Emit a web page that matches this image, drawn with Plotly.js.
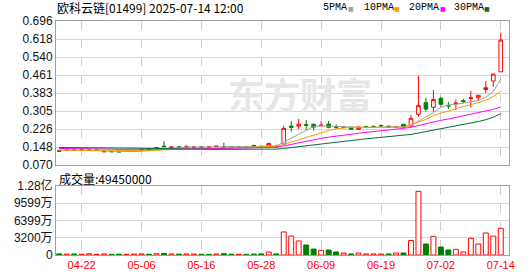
<!DOCTYPE html>
<html>
<head>
<meta charset="utf-8">
<script src="https://cdn.plot.ly/plotly-3.0.1.min.js"></script>
<style>html,body{margin:0;padding:0;background:#fff;}#chart{width:530px;height:276px;}</style>
</head>
<body>
<div id="chart"></div>
<script>
// ---- data ----
const dates = ['04-15','04-16','04-17','04-22','04-23','04-24','04-25','04-28','04-29','04-30',
  '05-02','05-06','05-07','05-08','05-09','05-12','05-13','05-14','05-15','05-16',
  '05-19','05-20','05-21','05-22','05-23','05-26','05-27','05-28','05-29','05-30',
  '06-02','06-03','06-04','06-05','06-06','06-09','06-10','06-11','06-12','06-13',
  '06-16','06-17','06-18','06-19','06-20','06-23','06-24','06-25','06-26','06-27',
  '06-30','07-02','07-03','07-04','07-07','07-08','07-09','07-10','07-11','07-14'];

const openP = [0.132,0.134,0.135,0.134,0.133,0.134,0.127,0.128,0.129,0.130,
  0.131,0.134,0.137,0.143,0.152,0.146,0.149,0.148,0.147,0.149,
  0.148,0.149,0.150,0.149,0.148,0.148,0.155,0.152,0.152,0.151,
  0.161,0.239,0.239,0.245,0.247,0.241,0.248,0.235,0.234,0.234,
  0.225,0.237,0.238,0.242,0.239,0.234,0.247,0.239,0.290,0.341,
  0.321,0.360,0.329,0.336,0.349,0.359,0.362,0.398,0.435,0.475];
const highP = [0.133,0.136,0.136,0.136,0.136,0.135,0.130,0.129,0.130,0.131,
  0.134,0.138,0.138,0.147,0.173,0.149,0.150,0.156,0.151,0.150,
  0.149,0.153,0.167,0.150,0.149,0.149,0.156,0.153,0.166,0.158,
  0.241,0.261,0.270,0.266,0.250,0.261,0.261,0.247,0.238,0.235,
  0.240,0.240,0.241,0.246,0.240,0.238,0.249,0.287,0.457,0.362,
  0.396,0.367,0.345,0.355,0.357,0.392,0.374,0.435,0.466,0.645];
const lowP = [0.129,0.133,0.133,0.133,0.132,0.133,0.126,0.127,0.126,0.129,
  0.130,0.133,0.134,0.142,0.149,0.145,0.146,0.144,0.141,0.146,
  0.147,0.148,0.146,0.147,0.147,0.147,0.152,0.149,0.151,0.145,
  0.157,0.215,0.225,0.222,0.219,0.238,0.229,0.226,0.232,0.224,
  0.224,0.233,0.234,0.236,0.233,0.233,0.232,0.236,0.280,0.302,
  0.302,0.323,0.313,0.309,0.338,0.321,0.348,0.382,0.410,0.475];
const closeP = [0.130,0.135,0.134,0.135,0.135,0.134,0.129,0.128,0.127,0.130,
  0.133,0.137,0.135,0.145,0.150,0.148,0.147,0.150,0.148,0.147,
  0.148,0.152,0.147,0.148,0.148,0.148,0.153,0.150,0.164,0.149,
  0.229,0.234,0.247,0.243,0.235,0.243,0.234,0.234,0.236,0.225,
  0.234,0.236,0.237,0.240,0.234,0.236,0.234,0.273,0.328,0.313,
  0.355,0.334,0.327,0.339,0.347,0.362,0.373,0.406,0.465,0.613];

const ma5 = [0.136,0.135,0.134,0.134,0.134,0.134,0.133,0.132,0.129,0.128,
  0.128,0.130,0.132,0.135,0.140,0.143,0.146,0.148,0.148,0.148,
  0.148,0.149,0.149,0.149,0.149,0.149,0.150,0.150,0.153,0.153,
  0.169,0.186,0.205,0.222,0.238,0.240,0.239,0.238,0.236,0.234,
  0.232,0.233,0.234,0.234,0.236,0.237,0.236,0.243,0.261,0.276,
  0.297,0.321,0.331,0.334,0.340,0.344,0.350,0.365,0.389,0.443];
const ma10 = [0.135,0.134,0.134,0.133,0.133,0.133,0.132,0.132,0.132,0.132,
  0.132,0.132,0.133,0.134,0.136,0.137,0.139,0.141,0.143,0.144,
  0.145,0.146,0.147,0.148,0.148,0.148,0.149,0.149,0.150,0.150,
  0.160,0.172,0.182,0.193,0.203,0.212,0.220,0.227,0.232,0.234,
  0.234,0.234,0.234,0.234,0.234,0.234,0.234,0.245,0.258,0.268,
  0.285,0.296,0.305,0.315,0.324,0.332,0.341,0.352,0.367,0.391];
const ma20 = [0.142,0.142,0.141,0.141,0.140,0.140,0.139,0.139,0.138,0.138,
  0.138,0.138,0.138,0.138,0.139,0.139,0.139,0.140,0.140,0.140,
  0.141,0.141,0.142,0.143,0.143,0.144,0.145,0.145,0.146,0.147,
  0.153,0.160,0.167,0.174,0.180,0.186,0.191,0.196,0.200,0.204,
  0.208,0.212,0.215,0.218,0.222,0.225,0.229,0.234,0.242,0.249,
  0.257,0.264,0.270,0.277,0.283,0.290,0.297,0.304,0.312,0.322];
const ma30 = [0.146,0.146,0.145,0.145,0.145,0.145,0.145,0.145,0.144,0.144,
  0.144,0.143,0.142,0.142,0.141,0.141,0.140,0.140,0.139,0.139,
  0.138,0.138,0.138,0.138,0.138,0.138,0.138,0.139,0.139,0.139,
  0.142,0.146,0.150,0.155,0.159,0.163,0.167,0.171,0.174,0.178,
  0.181,0.184,0.187,0.190,0.193,0.196,0.199,0.203,0.209,0.215,
  0.221,0.227,0.233,0.239,0.245,0.252,0.259,0.267,0.278,0.293];

const volume = [2.1e6,1.6e6,1.9e6,1.4e6,2.3e6,1.2e6,1.8e6,1.1e6,1.5e6,1.3e6,
  1.7e6,2.0e6,1.5e6,2.2e6,3.0e6,1.8e6,1.6e6,1.9e6,1.7e6,1.4e6,
  1.2e6,1.9e6,2.4e6,1.5e6,1.3e6,1.2e6,1.6e6,2.0e6,5.5e6,2.0e6,
  42.7e6,35.0e6,26.0e6,18.5e6,11.0e6,8.7e6,9.3e6,5.6e6,3.7e6,1.9e6,
  3.7e6,1.9e6,1.9e6,1.9e6,1.9e6,3.7e6,3.7e6,27.0e6,118.0e6,20.4e6,
  34.6e6,14.8e6,9.3e6,10.5e6,5.6e6,31.0e6,20.4e6,40.8e6,35.0e6,49.45e6];
// 1 = red (up) volume bar, 0 = green (down) volume bar
const volUp = [0,1,0,1,1,1,1,0,0,1, 1,1,0,1,0,1,0,1,1,0, 0,1,0,0,1,0,0,0,1,0,
  1,1,1,0,0,1,0,0,1,0, 1,1,1,1,0,1,0,1,1,0, 1,0,0,1,1,1,1,1,1,1];

const tickDates = ['04-22','05-06','05-16','05-28','06-09','06-19','07-02','07-14'];
const priceTicks = [0.070,0.14825,0.2265,0.30475,0.383,0.46125,0.5395,0.61775,0.696];
const priceTickText = ['0.070','0.148','0.226','0.305','0.383','0.461','0.540','0.618','0.696'];
const volTicks = [0,31995000,63990000,95985000,127980000];
const volTickText = ['0','3200万','6399万','9599万','1.28亿'];
const titleText = '欧科云链[01499] 2025-07-14 12:00';
const volLabel = '成交量:49450000';
const maNames = ['5PMA','10PMA','20PMA','30PMA'];
const maColors = ['#a0a0a0','#f5a000','#ff00ff','#00703a'];

// ---- styles ----
const RED = '#ff0000', GREEN = '#008000';
const cjk = 'Noto Sans CJK SC, sans-serif';

const traces = [];
traces.push({
  type: 'candlestick', x: dates, open: openP, high: highP, low: lowP, close: closeP,
  xaxis: 'x', yaxis: 'y',
  increasing: {line: {color: RED, width: 1}, fillcolor: '#ffffff'},
  decreasing: {line: {color: GREEN, width: 1}, fillcolor: GREEN},
  whiskerwidth: 0, hoverinfo: 'skip', showlegend: false
});
[ma5, ma10, ma20, ma30].forEach((arr, i) => {
  traces.push({
    type: 'scatter', mode: 'lines', x: dates, y: arr, xaxis: 'x', yaxis: 'y',
    line: {color: maColors[i], width: 1}, hoverinfo: 'skip', showlegend: false
  });
});
traces.push({
  type: 'bar', x: dates, y: volume, xaxis: 'x2', yaxis: 'y2', width: 0.66,
  marker: {
    color: volUp.map(u => u ? '#ffffff' : GREEN),
    line: {color: volUp.map(u => u ? RED : GREEN), width: 1}
  },
  hoverinfo: 'skip', showlegend: false
});

const px = v => (v - 56) / 453;       // pixel -> paper x
const py = v => (255 - v) / 234;      // pixel -> paper y

const annotations = [
  {text: titleText, x: px(55), y: py(8), xref: 'paper', yref: 'paper', xanchor: 'left', yanchor: 'middle',
   showarrow: false, font: {family: cjk, size: 12, color: '#000'}},
  {text: volLabel, x: px(57), y: py(178), xref: 'paper', yref: 'paper', xanchor: 'left', yanchor: 'middle',
   showarrow: false, font: {family: cjk, size: 12, color: '#000'}},
  {text: '东方财富', x: px(300), y: py(93), xref: 'paper', yref: 'paper', xanchor: 'center', yanchor: 'middle',
   showarrow: false, font: {family: cjk, size: 36, color: '#e6e6e6', weight: 'bold'}}
];
const legTextX = [320.7, 362, 407, 452];
const legSwX = [351, 397, 443, 487];
maNames.forEach((n, i) => {
  annotations.push({text: n, x: px(legTextX[i]), y: py(8), xref: 'paper', yref: 'paper',
    xanchor: 'left', yanchor: 'middle', showarrow: false,
    font: {family: 'Liberation Mono, monospace', size: 10, color: '#000'}});
  annotations.push({text: '■', x: px(legSwX[i]), y: py(9), xref: 'paper', yref: 'paper',
    xanchor: 'center', yanchor: 'middle', showarrow: false,
    font: {family: 'DejaVu Sans', size: 6, color: maColors[i]}});
});

const xBase = {
  type: 'category', range: [-0.43, 60.1], tickmode: 'array', tickvals: tickDates,
  showgrid: true, gridcolor: '#cfcfcf', griddash: 'dash', gridwidth: 1,
  showline: true, mirror: true, linecolor: '#a0a0a0', linewidth: 1,
  ticks: '', zeroline: false, fixedrange: true, rangeslider: {visible: false}
};
const yBase = {
  tickmode: 'array', showgrid: true, gridcolor: '#d6d6d6', gridwidth: 1,
  showline: true, mirror: true, linecolor: '#a0a0a0', linewidth: 1,
  ticks: '', zeroline: false, fixedrange: true,
  tickfont: {family: 'Liberation Sans, Arial, sans-serif', size: 12, color: '#111'}
};

const layout = {
  width: 530, height: 276,
  margin: {l: 56, r: 21, t: 21, b: 21},
  paper_bgcolor: '#ffffff', plot_bgcolor: '#ffffff',
  showlegend: false, hovermode: false,
  xaxis: Object.assign({}, xBase, {anchor: 'y', showticklabels: false}),
  xaxis2: Object.assign({}, xBase, {anchor: 'y2', matches: 'x', showticklabels: true,
    tickfont: {family: 'Liberation Sans, Arial, sans-serif', size: 11, color: RED}}),
  yaxis: Object.assign({}, yBase, {domain: [90 / 234, 1], anchor: 'x', range: [0.070, 0.696],
    tickvals: priceTicks, ticktext: priceTickText}),
  yaxis2: Object.assign({}, yBase, {domain: [0, 69 / 234], anchor: 'x2', range: [0, 127980000],
    tickvals: volTicks, ticktext: volTickText,
    tickfont: {family: 'Liberation Sans, ' + cjk, size: 12, color: '#111'}}),
  annotations: annotations
};

Plotly.newPlot('chart', traces, layout, {staticPlot: true, displayModeBar: false});
</script>
</body>
</html>
